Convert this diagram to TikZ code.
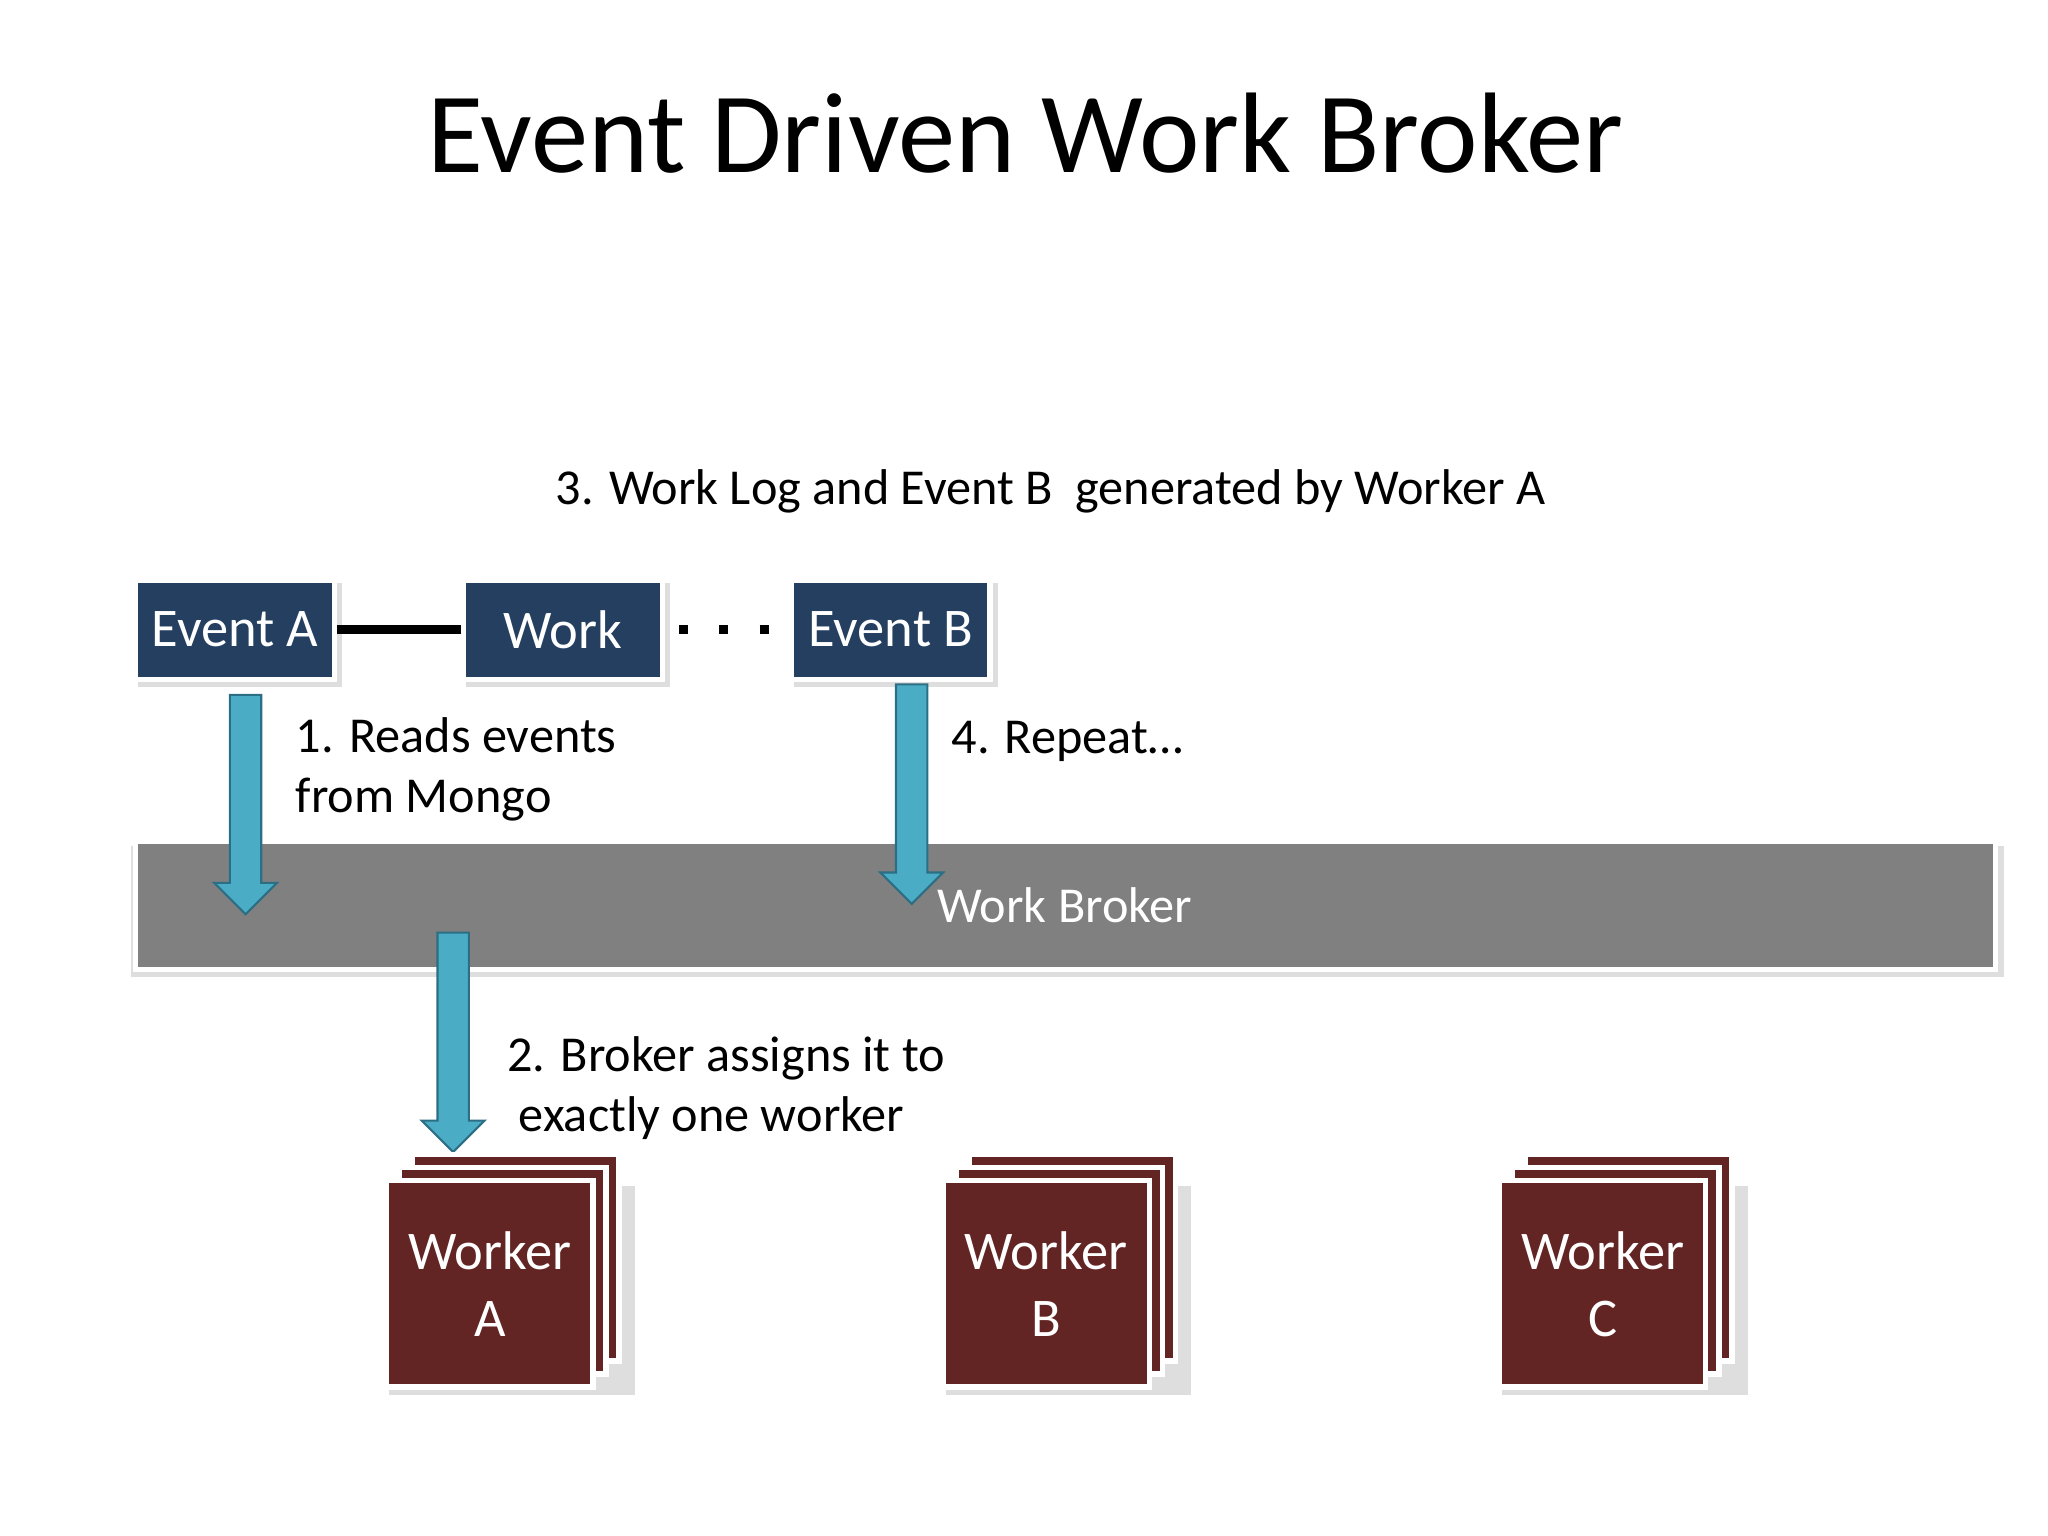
\documentclass[tikz,border=0pt]{standalone}
\usepackage{fontspec}
\setmainfont{Carlito}
\begin{document}
\begin{tikzpicture}[x=0.01306cm,y=-0.01306cm,
  sh/.style={fill=black!13,draw=none},
  ev/.style={fill=evc,draw=white,line width=1.5pt,minimum width=152*0.01306cm,minimum height=76*0.01306cm,inner sep=0pt,text=white,font=\fontsize{15.5}{18}\selectfont},
  wk/.style={fill=wkc,draw=white,line width=1.5pt,minimum width=158*0.01306cm,minimum height=158*0.01306cm,inner sep=0pt,text=white,align=center,font=\fontsize{15.5}{19}\selectfont},
  lab/.style={anchor=west,inner sep=0pt,font=\fontsize{14.3}{17}\selectfont,align=left},
  barrow/.style={fill=arc,draw=arcd,line width=0.6pt}]
\definecolor{evc}{HTML}{243F60}
\definecolor{wkc}{HTML}{632523}
\definecolor{arc}{HTML}{4BACC6}
\definecolor{arcd}{HTML}{2C6F85}
\useasboundingbox (0,0) rectangle (1568,1176);
\node[font=\fontsize{32.6}{38}\selectfont] (title) at (785,102) {Event Driven Work Broker};
\node[lab] (t3) at (425,376) {3. Work Log and Event B\ \ generated by Worker A};
% broker
\fill[sh] (100,648) rectangle (1534,748);
\node[fill=black!50,draw=white,line width=1.5pt,minimum width=1424*0.01306cm,minimum height=98*0.01306cm,inner sep=0pt] (broker) at (816,693) {};
\node[lab,text=white] (bl) at (717,693) {Work Broker};
% events
\foreach \x in {180,431,682}{\fill[sh] (\x-74,446) rectangle (\x+82,526);}
\node[ev] (ea) at (180,482) {Event A};
\node[ev] (wo) at (431,482) {Work};
\node[ev] (eb) at (682,482) {Event B};
\draw[line width=2.5pt] (ea.east) -- (wo.west);
\draw[line width=2.5pt,dash pattern=on 2.5pt off 9pt] ([xshift=4pt]wo.east) -- (eb.west);
% arrows
\draw[barrow] (176,532) -- (200,532) -- (200,676) -- (212,676) -- (188,700) -- (164,676) -- (176,676) -- cycle;
\draw[barrow] (686,524) -- (710,524) -- (710,668) -- (722,668) -- (698,692) -- (674,668) -- (686,668) -- cycle;
\draw[barrow] (335,714) -- (359,714) -- (359,858) -- (371,858) -- (347,882) -- (323,858) -- (335,858) -- cycle;
\node[lab] (t1) at (226,589) {1. Reads events\\from Mongo};
\node[lab] (t4) at (728,568) {4. Repeat…};
\node[lab] (t2) at (388,833) {2. Broker assigns it to\\\ exactly one worker};
% workers
\foreach \n/\x/\l in {a/375/A,b/801/B,c/1227/C}{
  \fill[sh] (\x-77,908) rectangle (\x+111,1068);
  \node[wk] (w\n3) at (\x+20,963) {};
  \node[wk] (w\n2) at (\x+10,973) {};
  \node[wk] (w\n) at (\x,983) {Worker\\\l};
}
\end{tikzpicture}
\end{document}
